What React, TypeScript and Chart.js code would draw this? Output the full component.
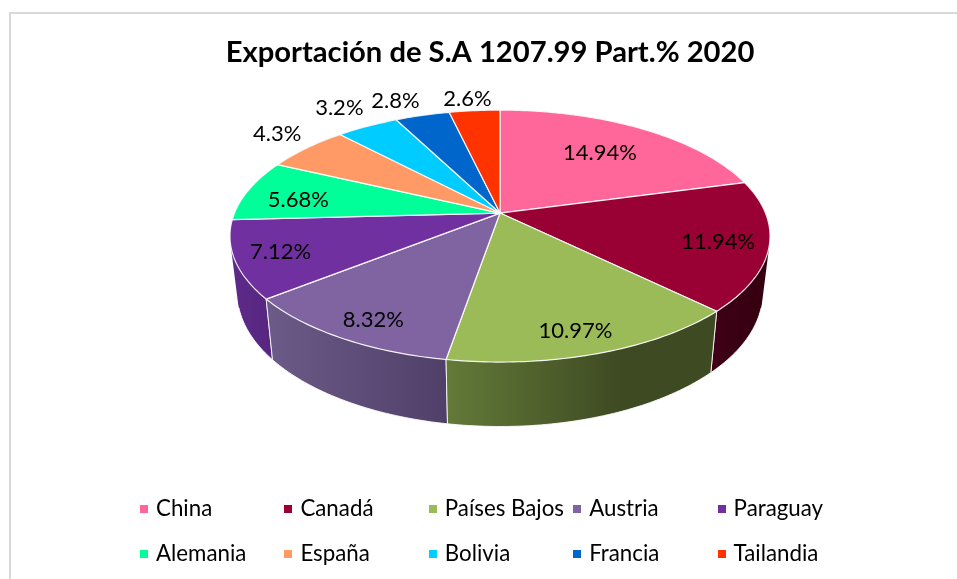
import React, { useEffect, useRef } from "react";
import { Chart, registerables } from "chart.js";

Chart.register(...registerables);

const titleText = "Exportación de S.A 1207.99 Part.% 2020";
const categories = ["China", "Canadá", "Países Bajos", "Austria", "Paraguay", "Alemania", "España", "Bolivia", "Francia", "Tailandia"];
const shares = [14.94, 11.94, 10.97, 8.32, 7.12, 5.68, 4.3, 3.2, 2.8, 2.6];
const shareLabels = ["14.94%", "11.94%", "10.97%", "8.32%", "7.12%", "5.68%", "4.3%", "3.2%", "2.8%", "2.6%"];
const topColors = ["#FF6699", "#990033", "#9BBB59", "#8064A2", "#7030A0", "#00FF99", "#FF9966", "#00CCFF", "#0066CC", "#FF3300"];
const wallFrom = ["#993D5C", "#3F0016", "#637A38", "#6C5B88", "#5E2A8A", "#009960", "#995C3D", "#007A99", "#003D7A", "#991F00"];
const wallTo = ["#993D5C", "#33000F", "#3E4A22", "#503F68", "#56267F", "#009960", "#995C3D", "#007A99", "#003D7A", "#991F00"];
const labelPull = [0.68, 0.81, 0.86, 0.86, 0.84, 0.8, 1.17, 1.25, 1.2, 1.15];
const labelNudgeX = [0, 2, -7, 7, 1, 1, 0, 0, -14, -4];
const labelNudgeY = [0, 3, 1, 2, 0, 5, -4, 0, 2, 1];

const FONT = "Lato, Carlito, sans-serif";
const PIE_SHIFT = 10;
const RX = 265.5;
const RY = 121.8;
const TILT = 0.1825;
const WALL_X = 0.973;
const WALL_Y = 1.06;
const WALL_DROP = 55.5;
const STEP = Math.PI / 180;

type Pt = { x: number; y: number };

function project(cx: number, cy: number, a: number, f = 1): Pt {
  const u = Math.cos(a) * f;
  const v = Math.sin(a) * f;
  const w = 1 - TILT * v;
  return { x: cx + (RX * u) / w, y: cy + (RY * v) / w };
}
function lower(cx: number, cy: number, p: Pt): Pt {
  return { x: cx + (p.x - cx) * WALL_X, y: cy + (p.y - cy) * WALL_Y + WALL_DROP };
}
function angles(start: number, end: number) {
  const list: number[] = [];
  for (let a = start; a < end; a += STEP) list.push(a);
  list.push(end);
  return list;
}
function area(q: Pt[]) {
  let s = 0;
  q.forEach((p, i) => {
    const r = q[(i + 1) % q.length];
    s += p.x * r.y - r.x * p.y;
  });
  return s;
}

const pie3d = {
  id: "pie3d",
  beforeDatasetDraw(chart: any) {
    const { ctx } = chart;
    const arcs = chart.getDatasetMeta(0).data;
    ctx.save();
    ctx.lineJoin = "round";
    const order = arcs
      .map((_: any, i: number) => i)
      .sort((p: number, q: number) => {
        const m = (k: number) => Math.sin((arcs[k].startAngle + arcs[k].endAngle) / 2);
        return m(p) - m(q);
      });
    order.forEach((i: number) => {
      const el = arcs[i];
      const cx = el.x + PIE_SHIFT;
      const pts = angles(el.startAngle, el.endAngle);
      const top = pts.map((a) => project(cx, el.y, a));
      const bot = top.map((p) => lower(cx, el.y, p));
      const xs = top.concat(bot).map((p) => p.x);
      const g = ctx.createLinearGradient(Math.min(...xs), 0, Math.max(...xs), 0);
      g.addColorStop(0, wallFrom[i]);
      g.addColorStop(i === 2 ? 0.65 : 1, wallTo[i]);
      if (i === 2) g.addColorStop(1, wallTo[i]);
      ctx.fillStyle = g;
      ctx.beginPath();
      for (let n = 0; n + 1 < top.length; n++) {
        const quad = [top[n], top[n + 1], bot[n + 1], bot[n]];
        if (area(quad) < 0) quad.reverse();
        quad.forEach((p, k) => (k ? ctx.lineTo(p.x, p.y) : ctx.moveTo(p.x, p.y)));
        ctx.closePath();
      }
      ctx.fill();
      ctx.strokeStyle = "rgba(255,255,255,0.85)";
      ctx.lineWidth = 1;
      ctx.beginPath();
      let pen = false;
      pts.forEach((a, n) => {
        if (Math.sin(a) > 0.28) {
          if (pen) ctx.lineTo(bot[n].x, bot[n].y);
          else ctx.moveTo(bot[n].x, bot[n].y);
          pen = true;
        }
      });
      ctx.stroke();
      [0, pts.length - 1].forEach((n) => {
        if (Math.sin(pts[n]) > 0.28) {
          ctx.beginPath();
          ctx.moveTo(top[n].x, top[n].y);
          ctx.lineTo(bot[n].x, bot[n].y);
          ctx.stroke();
        }
      });
    });
    arcs.forEach((el: any, i: number) => {
      const cx = el.x + PIE_SHIFT;
      ctx.beginPath();
      ctx.moveTo(cx, el.y);
      angles(el.startAngle, el.endAngle).forEach((a) => {
        const p = project(cx, el.y, a);
        ctx.lineTo(p.x, p.y);
      });
      ctx.closePath();
      ctx.fillStyle = topColors[i];
      ctx.fill();
      ctx.strokeStyle = "rgba(255,255,255,0.9)";
      ctx.lineWidth = 1.2;
      ctx.stroke();
    });
    ctx.restore();
    return false;
  },
  afterDraw(chart: any) {
    const { ctx } = chart;
    const arcs = chart.getDatasetMeta(0).data;
    ctx.save();
    ctx.font = `22px ${FONT}`;
    ctx.fillStyle = "#000";
    ctx.textAlign = "center";
    ctx.textBaseline = "middle";
    arcs.forEach((el: any, i: number) => {
      const p = project(el.x + PIE_SHIFT, el.y, (el.startAngle + el.endAngle) / 2, labelPull[i]);
      ctx.fillText(shareLabels[i], p.x + labelNudgeX[i], p.y + labelNudgeY[i]);
    });
    ctx.restore();
  },
};

export default function App() {
  const ref = useRef<HTMLCanvasElement | null>(null);
  useEffect(() => {
    const chart = new Chart(ref.current as HTMLCanvasElement, {
      type: "pie",
      data: {
        labels: categories,
        datasets: [{ data: shares, backgroundColor: topColors }],
      },
      options: {
        animation: false,
        responsive: false,
        layout: { padding: { bottom: 230.4 } },
        plugins: {
          legend: { display: false },
          tooltip: { enabled: false },
          title: {
            display: true,
            text: titleText,
            color: "#000",
            font: { family: FONT, size: 29.2, weight: "bold" },
            padding: { top: 21.5, bottom: 7 },
          },
        },
      },
      plugins: [pie3d],
    } as any);
    return () => chart.destroy();
  }, []);

  return (
    <div style={{ position: "fixed", inset: 0, overflow: "hidden", background: "#fff" }}>
      <div
        style={{
          position: "absolute",
          left: 9,
          top: 12,
          width: 980,
          height: 600,
          borderTop: "2px solid #d9d9d9",
          borderLeft: "2px solid #d9d9d9",
        }}
      >
        <canvas ref={ref} width={958} height={565} style={{ display: "block", width: 958, height: 565 }} />
      </div>
      {categories.map((name, i) => {
        const left = 140 + (i % 5) * 144.4;
        const top = i < 5 ? 509 : 553.5;
        return (
          <React.Fragment key={name}>
            <div style={{ position: "absolute", left, top: top - 4, width: 8, height: 8, background: topColors[i] }} />
            <div
              style={{
                position: "absolute",
                left: left + 16,
                top: top - 16,
                height: 30,
                font: `22.3px/30px ${FONT}`,
                color: "#000",
                whiteSpace: "nowrap",
              }}
            >
              {name}
            </div>
          </React.Fragment>
        );
      })}
    </div>
  );
}
